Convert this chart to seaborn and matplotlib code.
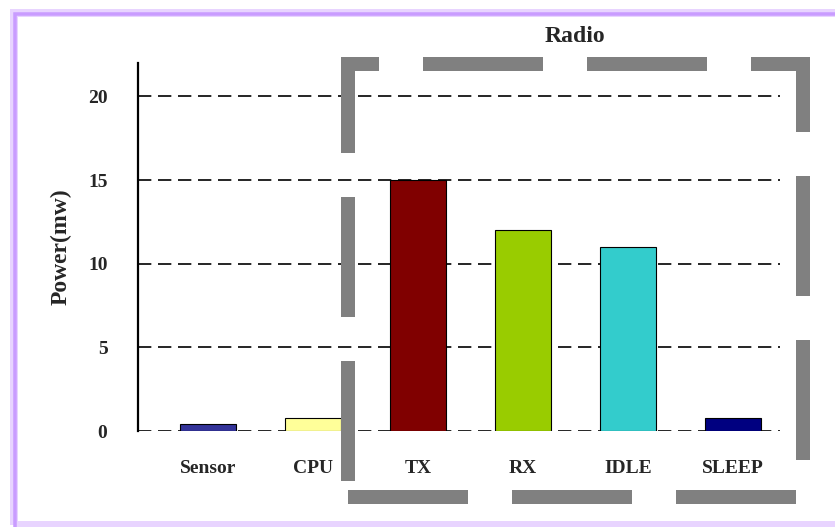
import matplotlib
matplotlib.use("Agg")
import matplotlib.pyplot as plt
from matplotlib.patches import Rectangle
import seaborn as sns
import pandas as pd

categories = ["Sensor", "CPU", "TX", "RX", "IDLE", "SLEEP"]
power_mw = [0.4, 0.8, 15.0, 12.0, 11.0, 0.8]
colors = ["#333399", "#FFFF99", "#800000", "#99CC00", "#33CCCC", "#000080"]
yticks = [0, 5, 10, 15, 20]

sns.set_theme(style="white")
plt.rcParams["font.family"] = ["Liberation Serif", "DejaVu Serif"]
plt.rcParams["font.weight"] = "bold"

W, H = 835, 527
fig = plt.figure(figsize=(W / 100, H / 100), dpi=100)
fig.patch.set_facecolor("white")
ax = fig.add_axes([138 / W, 96 / H, 642 / W, 368 / H])

df = pd.DataFrame({"cat": categories, "power": power_mw})
sns.barplot(data=df, x="cat", y="power", hue="cat", palette=colors, legend=False,
            order=categories, width=0.533, edgecolor="black", linewidth=0.8,
            saturation=1, ax=ax, zorder=3)

ax.set_xlim(-0.669, 5.446)
ax.set_ylim(0, 22)
ax.set_yticks(yticks)
for y in yticks:
    ax.axhline(y, color="black", lw=1.2, ls=(0, (8, 4)), zorder=2)

for s in ["top", "right", "bottom"]:
    ax.spines[s].set_visible(False)
ax.spines["left"].set_color("black")
ax.spines["left"].set_linewidth(1.6)
ax.spines["left"].set_zorder(4)

ax.tick_params(axis="y", length=0, pad=22, labelsize=14)
ax.tick_params(axis="x", length=0, pad=21, labelsize=14)
for lab in ax.get_xticklabels() + ax.get_yticklabels():
    lab.set_fontweight("bold")
ax.set_xlabel("")
ax.set_ylabel("Power(mw)", fontsize=17, fontweight="bold", labelpad=12)

# Radio title
fig.text(575 / W, 1 - 37 / H, "Radio", ha="center", va="center",
         fontsize=17, fontweight="bold")

# Gray dashed rectangle around radio bars
lw_px = 14
lw_pt = lw_px * 0.72
on = 120 * 0.72 / lw_pt
off = 44 * 0.72 / lw_pt
fig.add_artist(Rectangle((348 / W, 30 / H), 455 / W, 433 / H, transform=fig.transFigure,
                         fill=False, lw=lw_pt, ec="#808080", ls=(0, (on, off)),
                         joinstyle="miter", zorder=10))

# Purple frame (right side runs off the image)
fig.add_artist(Rectangle((14 / W, 2 / H), 840 / W, 512 / H, transform=fig.transFigure,
                         fill=False, lw=8 * 0.72, ec="#E8D4FF", zorder=0))
fig.add_artist(Rectangle((15 / W, -4 / H), 840 / W, 517 / H, transform=fig.transFigure,
                         fill=False, lw=3.5 * 0.72, ec="#C99CFF", zorder=0))

fig.savefig("out.png", dpi=100)
